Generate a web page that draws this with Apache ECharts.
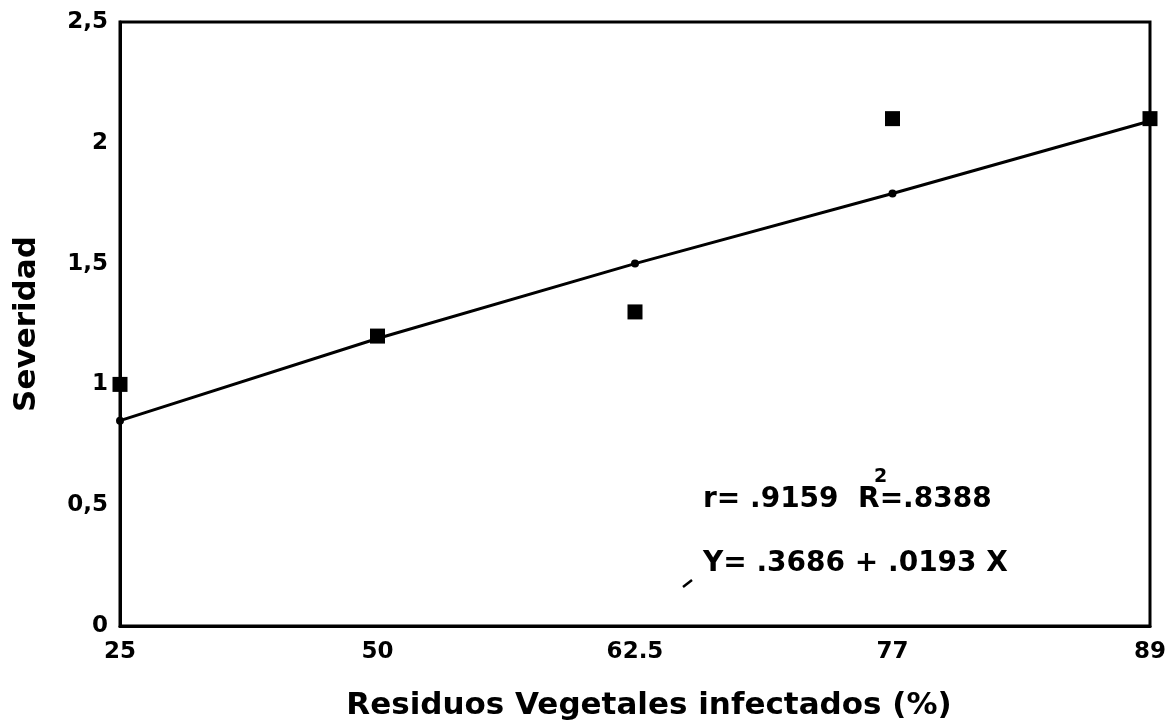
<!DOCTYPE html>
<html>
<head>
<meta charset="utf-8">
<script src="https://cdn.jsdelivr.net/npm/echarts@6/dist/echarts.min.js"></script>
<style>
  html, body { margin: 0; padding: 0; background: #fff; }
  #chart { width: 1169px; height: 727px; }
</style>
</head>
<body>
<div id="chart"></div>
<script>
// residuos infectados (%) - categorias del eje x
const residuos = ['25', '50', '62.5', '77', '89']
// severidad observada (cuadrados)
const severidadObs = [1.0, 1.2, 1.3, 2.1, 2.1]
// recta de regresion
const severidadAjuste = [0.85, 1.19, 1.50, 1.79, 2.09]
const yTicks = { min: 0, max: 2.5, step: 0.5 }

const font = 'DejaVu Sans'
const chart = echarts.init(document.getElementById('chart'))

const option = {
  backgroundColor: '#fff',
  animation: false,
  grid: {
    left: 120, right: 18, top: 22, bottom: 101,
    show: true, borderColor: '#000', borderWidth: 3
  },
  xAxis: {
    type: 'category',
    data: residuos,
    boundaryGap: false,
    axisLine: { lineStyle: { color: '#000', width: 3 } },
    axisTick: { show: false },
    axisLabel: { color: '#000', fontFamily: font, fontWeight: 'bold', fontSize: 23, margin: 15 },
    splitLine: { show: false },
    name: 'Residuos Vegetales infectados (%)',
    nameLocation: 'middle',
    nameGap: 64,
    nameTextStyle: { color: '#000', fontFamily: font, fontWeight: 'bold', fontSize: 31, padding: [0, 0, 0, 28] }
  },
  yAxis: {
    type: 'value',
    min: yTicks.min, max: yTicks.max, interval: yTicks.step,
    axisLine: { show: true, lineStyle: { color: '#000', width: 3 } },
    axisTick: { show: false },
    splitLine: { show: false },
    axisLabel: {
      color: '#000', fontFamily: font, fontWeight: 'bold', fontSize: 23, margin: 12,
      formatter: v => String(v).replace('.', ',')
    },
    name: 'Severidad',
    nameLocation: 'middle',
    nameGap: 78,
    nameTextStyle: { color: '#000', fontFamily: font, fontWeight: 'bold', fontSize: 31 }
  },
  series: [
    {
      name: 'ajuste',
      type: 'line',
      data: severidadAjuste,
      symbol: 'circle',
      symbolSize: 8,
      lineStyle: { color: '#000', width: 3 },
      itemStyle: { color: '#000', opacity: 1 },
      z: 2
    },
    {
      name: 'observado',
      type: 'scatter',
      data: severidadObs,
      symbol: 'rect',
      symbolSize: 15,
      itemStyle: { color: '#000', opacity: 1 },
      clip: false,
      z: 3
    }
  ],
  graphic: [
    { type: 'text', x: 703, y: 500,
      style: { text: 'r= .9159  R=.8388', fill: '#000', font: 'bold 28px "DejaVu Sans"', verticalAlign: 'middle' } },
    { type: 'text', x: 874, y: 477,
      style: { text: '2', fill: '#000', font: 'bold 19px "DejaVu Sans"', verticalAlign: 'middle' } },
    { type: 'text', x: 703, y: 564,
      style: { text: 'Y= .3686 + .0193 X', fill: '#000', font: 'bold 28px "DejaVu Sans"', verticalAlign: 'middle' } },
    { type: 'line', shape: { x1: 683, y1: 587, x2: 692, y2: 580 },
      style: { stroke: '#000', lineWidth: 2.5 } }
  ]
}

chart.setOption(option)
</script>
</body>
</html>
